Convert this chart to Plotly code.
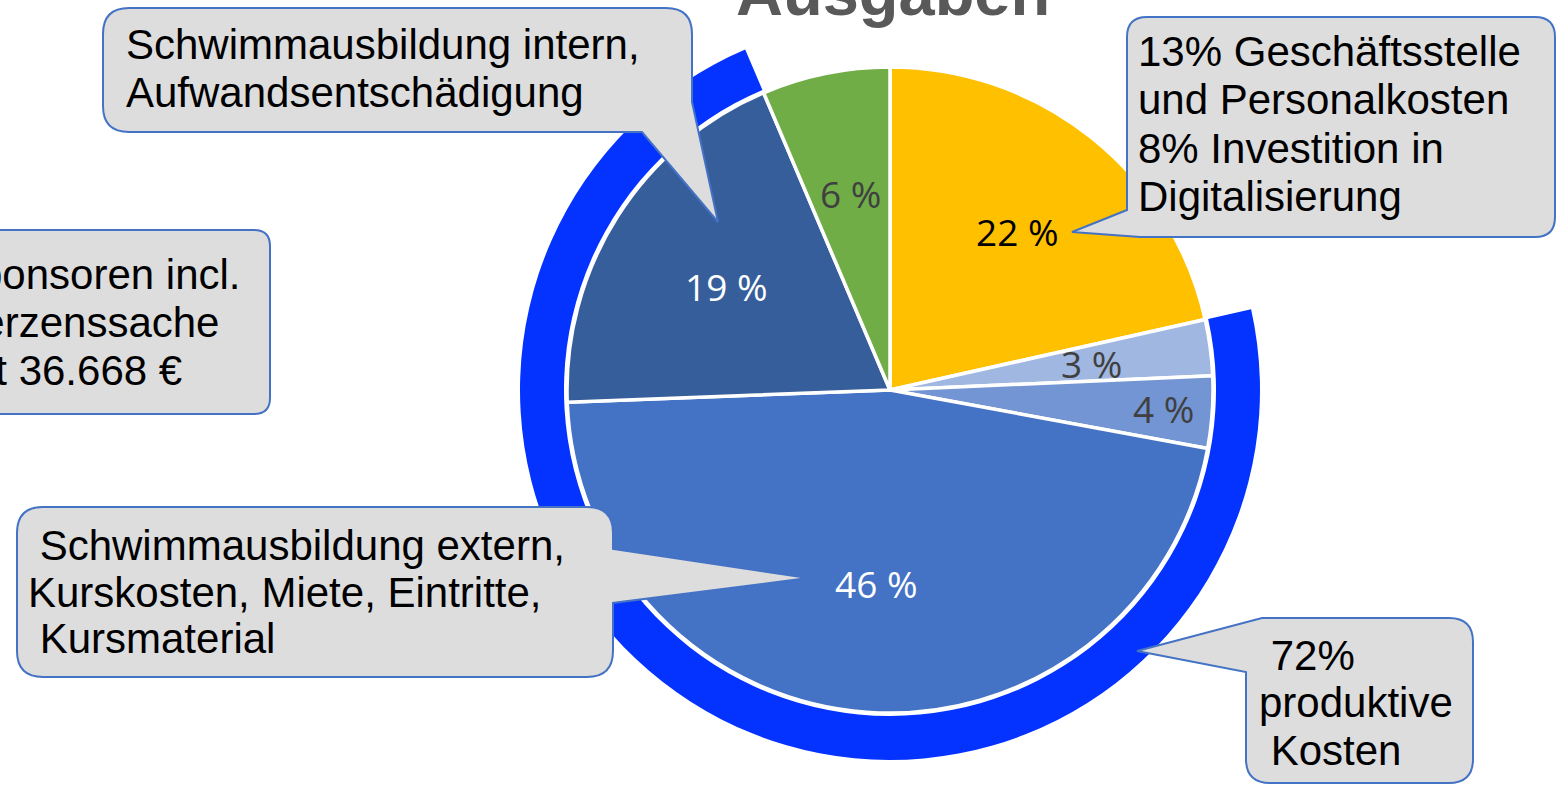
import math
import plotly.graph_objects as go

# ---------------- data ----------------
slice_names = ["Geschäftsstelle, Personal, Digitalisierung", "Sonstiges 1", "Sonstiges 2",
               "Schwimmausbildung extern", "Schwimmausbildung intern", "Sonstiges 3"]
slice_values = [21.5, 2.8, 3.6, 46.5, 19.2, 6.4]
slice_labels = ["22 %", "3 %", "4 %", "46 %", "19 %", "6 %"]
productive_flags = [False, True, True, True, True, False]

title_text = "Ausgaben"
callout_top_left = ["Schwimmausbildung intern,", "Aufwandsentschädigung"]
callout_left = ["Sponsoren incl.", "Herzenssache", "mit 36.668 €"]
callout_top_right = ["13% Geschäftsstelle", "und Personalkosten", "8% Investition in", "Digitalisierung"]
callout_bottom_left = [" Schwimmausbildung extern,", "Kurskosten, Miete, Eintritte,", " Kursmaterial"]
callout_bottom_right = [" 72%", "produktive", " Kosten"]

# ---------------- styles ----------------
W, H = 1563, 785
CX, CY, R, R_RING = 890, 390, 323, 370
slice_colors = ["#FFC000", "#A0B7E1", "#7395D3", "#4472C4", "#365E9B", "#70AD47"]
label_colors = ["#000000", "#404040", "#404040", "#FFFFFF", "#FFFFFF", "#404040"]
label_radius = [0.63, 0.63, 0.85, 0.60, 0.60, 0.62]
RING_COLOR = "#0433FF"
BOX_FILL = "#DDDDDD"
BOX_LINE = "#4472C4"
TXT_FONT = "Liberation Sans, Arial, sans-serif"
TXT_SIZE = 42


def PX(x):
    return x / W


def PY(y):
    return 1 - y / H


total = sum(slice_values)
productive = sum(v for v, p in zip(slice_values, productive_flags) if p)
# ring starts where first productive slice starts
start_val = 0
for v, p in zip(slice_values, productive_flags):
    if p:
        break
    start_val += v
ring_rotation = start_val / total * 360

fig = go.Figure()

fig.add_trace(go.Pie(
    values=[productive, total - productive],
    sort=False, direction="clockwise", rotation=ring_rotation,
    hole=(R + 3) / R_RING,
    marker=dict(colors=[RING_COLOR, "rgba(0,0,0,0)"], line=dict(width=0)),
    textinfo="none", hoverinfo="skip", showlegend=False,
    domain=dict(x=[PX(CX - R_RING), PX(CX + R_RING)], y=[PY(CY + R_RING), PY(CY - R_RING)]),
))

fig.add_trace(go.Pie(
    labels=slice_names, values=slice_values,
    sort=False, direction="clockwise", rotation=0,
    marker=dict(colors=slice_colors, line=dict(color="white", width=3.5)),
    textinfo="none", hoverinfo="skip", showlegend=False,
    domain=dict(x=[PX(CX - R), PX(CX + R)], y=[PY(CY + R), PY(CY - R)]),
))

annotations = []
# slice labels positioned at mid-angle of each slice
cum = 0
for v, lab, col, f in zip(slice_values, slice_labels, label_colors, label_radius):
    ang = math.radians((cum + v / 2) / total * 360)
    cum += v
    x = CX + f * R * math.sin(ang)
    y = CY - f * R * math.cos(ang)
    annotations.append(dict(x=PX(x), y=PY(y), xref="paper", yref="paper", text=lab,
                            showarrow=False, xanchor="center", yanchor="middle",
                            font=dict(family="Open Sans, sans-serif", size=37, color=col)))

# title (cut off at top)
annotations.append(dict(x=PX(893), y=PY(-8), xref="paper", yref="paper", text="<b>%s</b>" % title_text,
                        showarrow=False, xanchor="center", yanchor="middle",
                        font=dict(family=TXT_FONT, size=65, color="#595959")))


def add_lines(lines, x0, ys):
    for ln, y in zip(lines, ys):
        annotations.append(dict(x=PX(x0), y=PY(y), xref="paper", yref="paper",
                                text=ln.replace(" ", "&nbsp;") if ln.startswith(" ") else ln,
                                showarrow=False, xanchor="left", yanchor="middle",
                                font=dict(family=TXT_FONT, size=TXT_SIZE, color="black")))


add_lines(callout_top_left, 124, [45, 93])
add_lines(callout_left, -51, [275, 322, 370])
add_lines(callout_top_right, 1136, [52, 100, 149, 197])
add_lines(callout_bottom_left, 26, [545, 592, 638])
add_lines(callout_bottom_right, 1257, [655, 702, 750])


def path(cmds):
    out = []
    for c in cmds:
        s = c[0]
        for (x, y) in c[1:]:
            s += " %.5f,%.5f" % (PX(x), PY(y))
        out.append(s)
    return " ".join(out) + " Z"


shapes = []


def callout(cmds):
    shapes.append(dict(type="path", xref="paper", yref="paper", path=path(cmds),
                       fillcolor=BOX_FILL, line=dict(color=BOX_LINE, width=2), layer="above"))


# top-left box with pointer from bottom-right corner
l, t, r, b, q = 103, 8, 692, 132, 26
callout([("M", (l + q, t)), ("L", (r - q, t)), ("Q", (r, t), (r, t + q)), ("L", (r, b - 30)),
         ("L", (718, 222)), ("L", (642, b)), ("L", (l + q, b)), ("Q", (l, b), (l, b - q)),
         ("L", (l, t + q)), ("Q", (l, t), (l + q, t))])

# left box (cut by left edge)
l, t, r, b, q = -120, 230, 270, 414, 16
callout([("M", (l + q, t)), ("L", (r - q, t)), ("Q", (r, t), (r, t + q)), ("L", (r, b - q)),
         ("Q", (r, b), (r - q, b)), ("L", (l + q, b)), ("Q", (l, b), (l, b - q)),
         ("L", (l, t + q)), ("Q", (l, t), (l + q, t))])

# top-right box with pointer at bottom-left
l, t, r, b, q = 1127, 17, 1555, 237, 20
callout([("M", (l + q, t)), ("L", (r - q, t)), ("Q", (r, t), (r, t + q)), ("L", (r, b - q)),
         ("Q", (r, b), (r - q, b)), ("L", (1140, b)), ("L", (1072, 232)), ("L", (l, 210)),
         ("L", (l, t + q)), ("Q", (l, t), (l + q, t))])

# bottom-left box with pointer on right edge
l, t, r, b, q = 17, 507, 613, 677, 26
callout([("M", (l + q, t)), ("L", (r - q, t)), ("Q", (r, t), (r, t + q)), ("L", (r, 549)),
         ("L", (808, 578)), ("L", (r, 603)), ("L", (r, b - q)),
         ("Q", (r, b), (r - q, b)), ("L", (l + q, b)), ("Q", (l, b), (l, b - q)),
         ("L", (l, t + q)), ("Q", (l, t), (l + q, t))])

# bottom-right box with pointer at top-left
l, t, r, b, q = 1246, 618, 1473, 783, 24
callout([("M", (1262, t)), ("L", (r - q, t)), ("Q", (r, t), (r, t + q)), ("L", (r, b - q)),
         ("Q", (r, b), (r - q, b)), ("L", (l + q, b)), ("Q", (l, b), (l, b - q)),
         ("L", (l, 672)), ("L", (1137, 651))])

fig.update_layout(
    width=W, height=H, margin=dict(l=0, r=0, t=0, b=0),
    paper_bgcolor="white", plot_bgcolor="white",
    showlegend=False, annotations=annotations, shapes=shapes,
)

fig.write_html("out.html", config={"displayModeBar": False},
               post_script="document.body.style.margin='0';document.body.style.overflow='hidden';")
